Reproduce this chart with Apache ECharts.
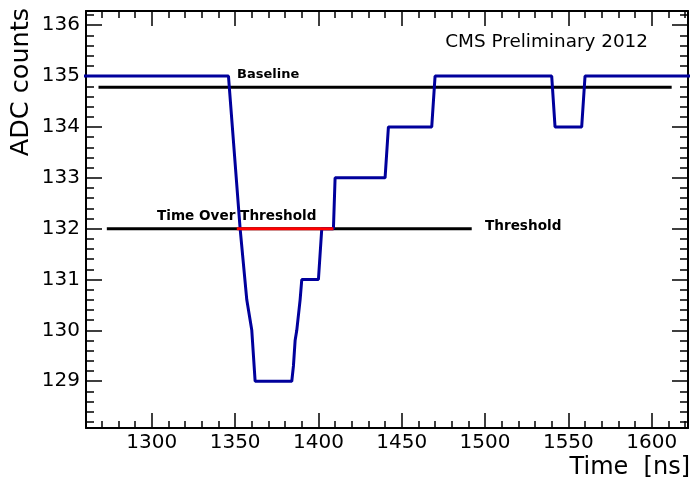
<!DOCTYPE html>
<html><head><meta charset="utf-8">
<script src="https://cdn.jsdelivr.net/npm/echarts@6/dist/echarts.min.js"></script>
<style>html,body{margin:0;padding:0;background:#fff}#c{width:693px;height:488px}</style>
</head><body><div id="c"></div>
<script>
// ---- data ----
const timeNs = [1255, 1346, 1353, 1357, 1360, 1362, 1384, 1385, 1386, 1387, 1389, 1390, 1400, 1402, 1409, 1410, 1440, 1442, 1468, 1470, 1540, 1542, 1558, 1560, 1630];
const adcCounts = [135, 135, 132, 130.6, 130, 129, 129, 129.3, 129.8, 130, 130.6, 131, 131, 132, 132, 133, 133, 134, 134, 135, 135, 134, 134, 135, 135];
const baselineTimes = [1268, 1612];
const baselineValue = 134.78;
const thresholdTimes = [1273, 1492];
const thresholdValue = 132;
const totTimes = [1351, 1409];
const xRange = [1260.5, 1621.8];
const yRange = [128.08, 136.28];
const xStep = 50, yStep = 1;

const FONT = 'DejaVu Sans';
const chart = echarts.init(document.getElementById('c'), null, {renderer: 'canvas'});

function xAx(pos, labels) {
  return {
    type: 'value', position: pos, min: xRange[0], max: xRange[1],
    splitNumber: 7, minInterval: xStep, maxInterval: xStep,
    axisLine: {show: true, onZero: false, lineStyle: {color: '#000', width: 2}},
    axisTick: {show: true, inside: true, length: 15, lineStyle: {color: '#000', width: 1.5}},
    minorTick: {show: true, splitNumber: 5, length: 7, lineStyle: {color: '#000', width: 1.5}},
    axisLabel: {show: labels, showMinLabel: false, showMaxLabel: false, margin: 5,
      formatter: v => String(Math.round(v)),
      fontFamily: FONT, fontSize: 20, color: '#000'},
    splitLine: {show: false}, minorSplitLine: {show: false}
  };
}
function yAx(pos, labels) {
  return {
    type: 'value', position: pos, min: yRange[0], max: yRange[1],
    splitNumber: 8, minInterval: yStep, maxInterval: yStep,
    axisLine: {show: true, onZero: false, lineStyle: {color: '#000', width: 2}},
    axisTick: {show: true, inside: true, length: 16, lineStyle: {color: '#000', width: 1.5}},
    minorTick: {show: true, splitNumber: 5, length: 8, lineStyle: {color: '#000', width: 1.5}},
    axisLabel: {show: labels, showMinLabel: false, showMaxLabel: false, margin: 6,
      formatter: v => String(Math.round(v)),
      fontFamily: FONT, fontSize: 20, color: '#000'},
    splitLine: {show: false}, minorSplitLine: {show: false}
  };
}

const wave = timeNs.map((t, i) => [t, adcCounts[i]]);

chart.setOption({
  animation: false,
  backgroundColor: '#fff',
  grid: {left: 86, right: 5, top: 11, bottom: 60, containLabel: false},
  xAxis: [xAx('bottom', true), xAx('top', false)],
  yAxis: [yAx('left', true), yAx('right', false)],
  series: [
    {type: 'line', name: 'Baseline', data: baselineTimes.map(t => [t, baselineValue]),
      showSymbol: false, lineStyle: {color: '#000', width: 3}, z: 2, silent: true},
    {type: 'line', name: 'Threshold', data: thresholdTimes.map(t => [t, thresholdValue]),
      showSymbol: false, lineStyle: {color: '#000', width: 3}, z: 2, silent: true},
    {type: 'line', name: 'Signal', data: wave, showSymbol: false, clip: true,
      lineStyle: {color: '#00009c', width: 3}, z: 3, silent: true},
    {type: 'line', name: 'Time Over Threshold', data: totTimes.map(t => [t, thresholdValue]),
      showSymbol: false, lineStyle: {color: '#ff0000', width: 3}, z: 4, silent: true}
  ],
  graphic: [
    {type: 'text', x: 21, y: 8, rotation: Math.PI / 2,
      style: {text: 'ADC counts', font: '25.5px "' + FONT + '"', fill: '#000', textAlign: 'right', textVerticalAlign: 'middle'}},
    {type: 'text', x: 690, y: 468,
      style: {text: 'Time  [ns]', font: '24px "' + FONT + '"', fill: '#000', textAlign: 'right', textVerticalAlign: 'middle'}},
    {type: 'text', x: 648, y: 42,
      style: {text: 'CMS Preliminary 2012', font: '18.4px "' + FONT + '"', fill: '#000', textAlign: 'right', textVerticalAlign: 'middle'}},
    {type: 'text', x: 237, y: 75,
      style: {text: 'Baseline', font: 'bold 13px "' + FONT + '"', fill: '#000', textAlign: 'left', textVerticalAlign: 'middle'}},
    {type: 'text', x: 157, y: 216,
      style: {text: 'Time Over Threshold', font: 'bold 13.6px "' + FONT + '"', fill: '#000', textAlign: 'left', textVerticalAlign: 'middle'}},
    {type: 'text', x: 485, y: 226,
      style: {text: 'Threshold', font: 'bold 13.6px "' + FONT + '"', fill: '#000', textAlign: 'left', textVerticalAlign: 'middle'}}
  ]
});
</script></body></html>
